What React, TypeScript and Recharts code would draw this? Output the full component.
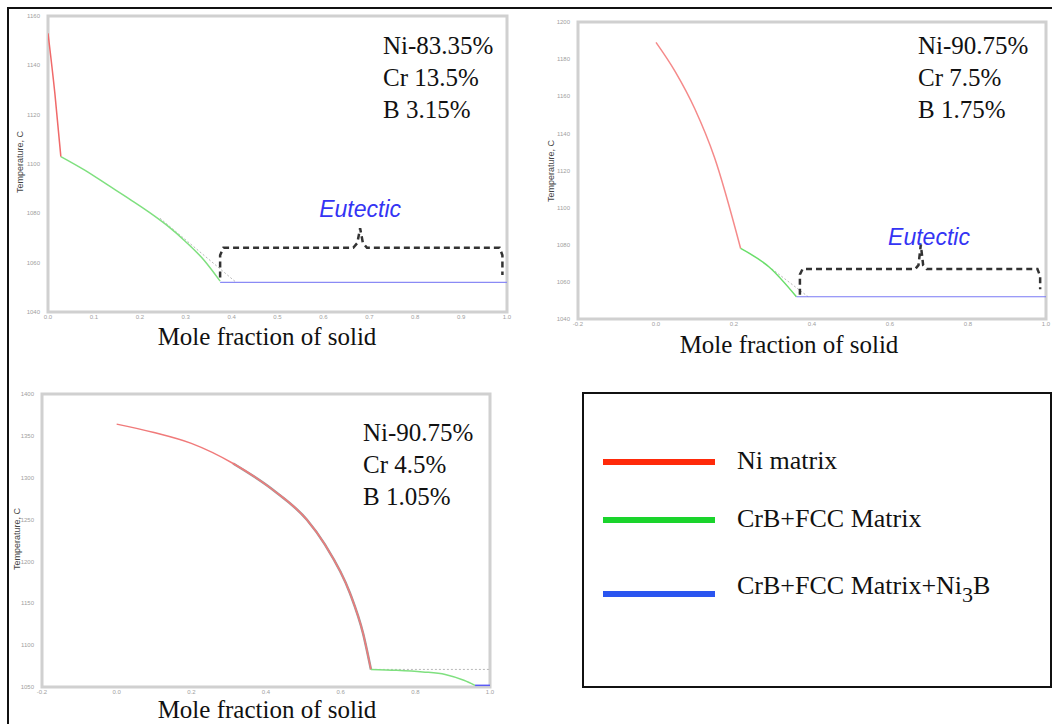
import { LineChart, Line, XAxis, YAxis, ReferenceArea, ReferenceDot } from 'recharts'

// panel 1: Ni-83.35% Cr 13.5% B 3.15%
const niMatrix1 = [
  { x: 0, y: 1153 }, { x: 0.015, y: 1128.5 }, { x: 0.028, y: 1103 },
]
const crbFcc1 = [
  { x: 0.028, y: 1103 }, { x: 0.08, y: 1097.5 }, { x: 0.13, y: 1091.5 }, { x: 0.18, y: 1085.5 },
  { x: 0.22, y: 1080.5 }, { x: 0.26, y: 1075 }, { x: 0.3, y: 1068.5 }, { x: 0.34, y: 1061 },
  { x: 0.375, y: 1052.5 },
]
const crbFccNi3b1 = [{ x: 0.375, y: 1052 }, { x: 1.0, y: 1052 }]
const equil1 = [{ x: 0.244, y: 1078 }, { x: 0.41, y: 1052 }]
const brace1 = [
  { x: 0.375, y: 1054 }, { x: 0.375, y: 1063 }, { x: 0.382, y: 1066 }, { x: 0.665, y: 1066 },
  { x: 0.674, y: 1068 }, { x: 0.68, y: 1074 }, { x: 0.686, y: 1068 }, { x: 0.695, y: 1066 },
  { x: 0.984, y: 1066 }, { x: 0.99, y: 1063 }, { x: 0.99, y: 1055 },
]
const xTicks1 = [0, 0.1, 0.2, 0.3, 0.4, 0.5, 0.6, 0.7, 0.8, 0.9, 1.0]
const yTicks1 = [1040, 1060, 1080, 1100, 1120, 1140, 1160]

// panel 2: Ni-90.75% Cr 7.5% B 1.75%
const niMatrix2 = [
  { x: 0, y: 1189 }, { x: 0.05, y: 1173 }, { x: 0.1, y: 1153 }, { x: 0.15, y: 1127 }, { x: 0.217, y: 1078 },
]
const crbFcc2 = [{ x: 0.217, y: 1078 }, { x: 0.29, y: 1068 }, { x: 0.36, y: 1052 }]
const crbFccNi3b2 = [{ x: 0.36, y: 1052 }, { x: 1.0, y: 1052 }]
const equil2 = [{ x: 0.297, y: 1067 }, { x: 0.39, y: 1052 }]
const brace2 = [
  { x: 0.369, y: 1053 }, { x: 0.369, y: 1064 }, { x: 0.376, y: 1067 }, { x: 0.665, y: 1067 },
  { x: 0.673, y: 1069 }, { x: 0.679, y: 1080 }, { x: 0.685, y: 1069 }, { x: 0.694, y: 1067 },
  { x: 0.978, y: 1067 }, { x: 0.985, y: 1063 }, { x: 0.985, y: 1056 },
]
const xTicks2 = [-0.2, 0, 0.2, 0.4, 0.6, 0.8, 1.0]
const yTicks2 = [1040, 1060, 1080, 1100, 1120, 1140, 1160, 1180, 1200]

// panel 3: Ni-90.75% Cr 4.5% B 1.05%
const niMatrix3 = [
  { x: 0, y: 1364 }, { x: 0.1, y: 1354 }, { x: 0.2, y: 1341 }, { x: 0.312, y: 1317 },
  { x: 0.42, y: 1285 }, { x: 0.509, y: 1250 }, { x: 0.558, y: 1220 }, { x: 0.625, y: 1162 },
  { x: 0.66, y: 1114 }, { x: 0.681, y: 1071 },
]
const crbFcc3 = [
  { x: 0.681, y: 1071 }, { x: 0.75, y: 1070 }, { x: 0.82, y: 1068 }, { x: 0.88, y: 1065 },
  { x: 0.93, y: 1058 }, { x: 0.96, y: 1052 },
]
const crbFccNi3b3 = [{ x: 0.96, y: 1052 }, { x: 1.0, y: 1052 }]
const equil3 = [{ x: 0.681, y: 1071 }, { x: 1.0, y: 1071 }]
const xTicks3 = [-0.2, 0, 0.2, 0.4, 0.6, 0.8, 1.0]
const yTicks3 = [1050, 1100, 1150, 1200, 1250, 1300, 1350, 1400]

const comp1 = ['Ni-83.35%', 'Cr 13.5%', 'B 3.15%']
const comp2 = ['Ni-90.75%', 'Cr 7.5%', 'B 1.75%']
const comp3 = ['Ni-90.75%', 'Cr 4.5%', 'B 1.05%']

const legendItems = [
  { name: 'Ni matrix', color: '#ff2a0a' },
  { name: 'CrB+FCC Matrix', color: '#1ad42c' },
  { name: 'CrB+FCC Matrix+Ni', sub: '3', tail: 'B', color: '#2a55f0' },
]

const SERIF = '"Liberation Serif", "Times New Roman", serif'
const SANS = '"Liberation Sans", Arial, sans-serif'
const tickStyle = { fill: '#a0a0a0', fontSize: 6, fontFamily: SANS }

function Panel({ box, margin, xDomain, xTicks, yDomain, yTicks, children }: any) {
  return (
    <div style={{ position: 'absolute', left: box[0], top: box[1] }}>
      <LineChart width={box[2]} height={box[3]} margin={margin}>
        <XAxis type="number" dataKey="x" domain={xDomain} ticks={xTicks} allowDataOverflow
          height={14} axisLine={false} tickLine={false} tickSize={0} tick={tickStyle} interval={0} tickMargin={3}
          tickFormatter={(v: number) => v.toFixed(1)} />
        <YAxis type="number" dataKey="y" domain={yDomain} ticks={yTicks} allowDataOverflow
          width={20} axisLine={false} tickLine={false} tick={tickStyle} interval={0} tickMargin={2} />
        <ReferenceArea x1={xDomain[0]} x2={xDomain[1]} y1={yDomain[0]} y2={yDomain[1]}
          fill="none" stroke="#d0d0d0" strokeWidth={3} />
        {children}
      </LineChart>
    </div>
  )
}

const seg = (key: string, data: any[], color: string, width = 1.5, dash?: string) => (
  <Line key={key} data={data} dataKey="y" type="monotone" stroke={color} strokeWidth={width}
    strokeDasharray={dash} dot={false} isAnimationActive={false} />
)

const brace = (data: any[]) => (
  <Line data={data} dataKey="y" type="linear" stroke="#333" strokeWidth={2.5}
    strokeDasharray="6 4" dot={false} isAnimationActive={false} />
)

const eutectic = (x: number, y: number) => (
  <ReferenceDot x={x} y={y} r={0} ifOverflow="visible"
    label={{ value: 'Eutectic', position: 'center', fill: '#3434f4', fontSize: 23,
      fontStyle: 'italic', fontFamily: SANS }} />
)

function Comp({ lines, left, top }: any) {
  return (
    <div style={{ position: 'absolute', left, top, fontFamily: SERIF, fontSize: 25, lineHeight: '32px', color: '#111' }}>
      {lines.map((l: string) => <div key={l}>{l}</div>)}
    </div>
  )
}

function XLabel({ cx, top }: any) {
  return (
    <div style={{ position: 'absolute', left: cx - 150, width: 300, top, textAlign: 'center',
      fontFamily: SERIF, fontSize: 25, lineHeight: '18px', color: '#111', whiteSpace: 'nowrap' }}>
      Mole fraction of solid
    </div>
  )
}

function YLabel({ cx, cy }: any) {
  return (
    <div style={{ position: 'absolute', left: cx - 40, top: cy - 6, width: 80, textAlign: 'center',
      fontFamily: SANS, fontSize: 9, color: '#444', transform: 'rotate(-90deg)', whiteSpace: 'nowrap' }}>
      Temperature, C
    </div>
  )
}

export default function App() {
  return (
    <div style={{ position: 'absolute', left: 0, top: 0, width: 1052, height: 724, background: '#fff', overflow: 'hidden' }}>
      <div style={{ position: 'absolute', left: 7, top: 7, width: 1100, height: 800,
        borderTop: '2px solid #111', borderLeft: '2px solid #111' }} />

      <Panel box={[0, 0, 520, 340]} margin={{ top: 16, right: 13, bottom: 14, left: 28 }}
        xDomain={[0, 1]} xTicks={xTicks1} yDomain={[1040, 1160]} yTicks={yTicks1}>
        {seg('eq1', equil1, '#b8b8b8', 1, '2 2')}
        {seg('r1', niMatrix1, '#f06a6a')}
        {seg('g1', crbFcc1, '#7fe07f')}
        {seg('b1', crbFccNi3b1, '#8a8af5', 1.2)}
        {brace(brace1)}
        {eutectic(0.68, 1082)}
      </Panel>
      <Comp lines={comp1} left={383} top={30} />
      <XLabel cx={267} top={328} />
      <YLabel cx={20} cy={163} />

      <Panel box={[530, 0, 522, 345]} margin={{ top: 22, right: 6, bottom: 12, left: 28 }}
        xDomain={[-0.2, 1]} xTicks={xTicks2} yDomain={[1040, 1200]} yTicks={yTicks2}>
        {seg('eq2', equil2, '#b8b8b8', 1, '2 2')}
        {seg('r2', niMatrix2, '#f58a8a')}
        {seg('g2', crbFcc2, '#6ade6a')}
        {seg('b2', crbFccNi3b2, '#7a7af5', 1.2)}
        {brace(brace2)}
        {eutectic(0.7, 1084)}
      </Panel>
      <Comp lines={comp2} left={918} top={30} />
      <XLabel cx={789} top={336} />
      <YLabel cx={551} cy={172} />

      <Panel box={[0, 380, 510, 330]} margin={{ top: 14, right: 20, bottom: 9, left: 22 }}
        xDomain={[-0.2, 1]} xTicks={xTicks3} yDomain={[1050, 1400]} yTicks={yTicks3}>
        {seg('eq3', equil3, '#b8b8b8', 1, '2 2')}
        {seg('sh3', niMatrix3.filter((p) => p.x >= 0.3), '#9a9a9a', 2.5)}
        {seg('r3', niMatrix3, '#f07a7a')}
        {seg('g3', crbFcc3, '#7fe07f')}
        {seg('b3', crbFccNi3b3, '#5a5af5', 1.5)}
      </Panel>
      <Comp lines={comp3} left={363} top={417} />
      <XLabel cx={267} top={701} />
      <YLabel cx={17} cy={540} />

      <div style={{ position: 'absolute', left: 582, top: 392, width: 466, height: 292,
        border: '2px solid #111', background: '#fff' }}>
        {legendItems.map((it, i) => (
          <div key={it.name} style={{ position: 'absolute', left: 19, top: [56, 114, 185][i],
            display: 'flex', alignItems: 'center' }}>
            <div style={{ width: 112, height: 6, background: it.color }} />
            <div style={{ marginLeft: 22, fontFamily: SERIF, fontSize: 26, color: '#111',
              lineHeight: '26px', whiteSpace: 'nowrap', marginTop: i === 2 ? -6 : -2 }}>
              {it.name}
              {it.sub && <sub style={{ fontSize: 22, verticalAlign: '-8px' }}>{it.sub}</sub>}
              {it.tail}
            </div>
          </div>
        ))}
      </div>
    </div>
  )
}
